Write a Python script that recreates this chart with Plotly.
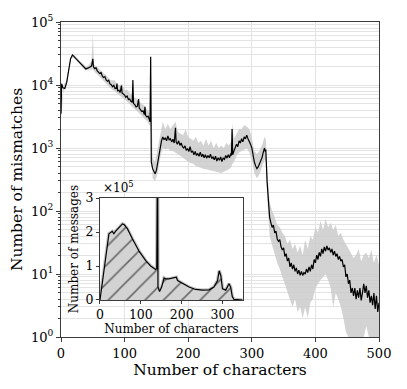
import plotly.graph_objects as go

# main panel: mismatches vs message length
chars = [0, 1, 3, 6, 9, 12, 15, 18, 21, 24, 27, 30, 33, 36, 39, 42, 45, 48, 50,
         51, 53, 55, 57, 59, 61, 63, 65, 67, 69, 71, 73, 75, 77, 79, 81, 83, 85, 87, 88, 89, 91, 93, 95, 96,
         98, 100, 102, 104, 106, 108, 110, 112, 113, 114, 116, 118, 120, 122, 123, 125, 127, 129, 131, 132,
         133, 135, 137, 139, 140, 141,
         142, 144, 146, 148, 150, 152, 154, 156, 158, 160, 162, 164, 166, 168, 170, 172, 174, 176, 178, 180,
         181, 183, 185, 187, 189, 191, 193, 195, 197, 199, 201, 203, 205, 207, 209, 211, 213, 215, 217, 219,
         221, 223, 225, 227, 229, 231, 233, 235, 237, 239, 241, 243, 245, 247, 249, 251, 253, 255, 257, 259,
         261, 263, 265, 267, 268, 269, 270, 272, 274, 276, 278, 280, 282, 284, 286, 288, 290, 292, 294, 296,
         298, 300, 302, 304, 306, 308, 310, 312, 314, 316, 318, 320, 321, 322, 324, 326,
         328, 330, 332, 334, 336, 338, 340, 342, 344, 346, 348, 350, 352, 354, 356, 358, 360, 362, 364, 366,
         368, 370, 372, 374, 376, 378, 380, 382, 384, 386, 388, 390, 392, 394, 396, 398, 400, 402, 404, 406,
         408, 410, 412, 414, 416, 418, 420, 422, 424, 426, 428, 430, 432, 434, 436, 438, 440, 442, 444, 446,
         448, 450, 452, 454, 456, 458, 460, 462, 464, 466, 468, 470, 472, 474, 476, 478, 480, 482, 484, 486,
         488, 490, 492, 494, 496, 498, 500]
mismatches = [3500, 10500, 9000, 8800, 11000, 18000, 26000, 30000, 28000, 26000, 24000, 22500, 21000, 19500,
              18000, 18500, 19500, 20000, 26000,
              19500, 18200, 18800, 16800, 16000, 15200, 15800, 13800, 13200, 13600, 12000, 11500, 11900,
              10400, 10100, 9400, 9900, 8800, 8900, 10500, 8000, 8300, 7600, 9800, 7500, 7300, 6900, 6400,
              6700, 5900, 6000, 5500, 5300, 12000, 5100, 4900, 4500, 4600, 6000, 4300, 4000, 3800, 3900,
              3400, 4500, 3300, 3100, 3200, 2800, 2600, 28000,
              600, 470, 420, 390, 440, 580, 800, 1050, 1300, 1500, 1350, 1450, 1300, 1550, 1350, 1400, 1250,
              1380, 1200, 2100, 1250, 1150, 1300, 1100, 1200, 1050, 1000, 1080, 920, 980, 880, 1050, 850,
              900, 780, 880, 760, 820, 740, 860, 730, 800, 700, 780, 690, 760, 700, 800, 680, 720, 650, 740,
              620, 700, 640, 720, 610, 690, 660, 760, 690, 780, 700, 820, 760, 2000, 780, 900, 1000, 1150,
              1050, 1300, 1200, 1400, 1250, 1500, 1400, 1600, 1400, 1300, 1150, 1000, 750, 600, 520, 470,
              500, 560, 620, 700, 850, 1000, 880, 950, 300, 140,
              80, 65, 55, 60, 45, 48, 36, 33, 35, 27, 24, 26, 19, 21, 16, 18, 13, 15, 12, 14, 11, 12.5, 10,
              11.5, 9.5, 11, 9.5, 10.5, 10, 12, 10.5, 13, 11, 14, 12, 17, 15, 20, 17, 22, 19, 25, 21, 27, 23,
              28, 24, 26, 22, 25, 20, 23, 19, 21, 17, 19, 16, 17, 13, 14, 9, 10, 7, 8, 5, 6, 4.5, 6, 4, 5.5,
              4.2, 6, 3.8, 5, 7, 5, 6.5, 4.2, 5.5, 3.5, 4.5, 3.2, 5, 2.8, 4.5, 2.5, 3.5]

band_chars = [0, 4, 8, 12, 16, 20, 24, 28, 32, 36, 40, 44, 48, 50, 52, 56, 60, 64, 68, 72, 76, 80, 84, 88,
              92, 96, 100, 104, 108, 112, 116, 120, 124, 128, 132, 136, 140, 141, 144, 148, 152, 156, 160,
              164, 168, 172, 176, 180, 184, 188, 192, 196, 200, 204, 208, 212, 216, 220, 224, 228, 232, 236,
              240, 244, 248, 252, 256, 260, 264, 268, 269, 272, 276, 280, 284, 288, 292, 296, 300, 304, 308,
              312, 316, 320, 322, 324, 328, 332, 336, 340, 344, 348, 352, 356, 360, 364, 368, 372, 376, 380,
              384, 388, 392, 396, 400, 404, 408, 412, 416, 420, 424, 428, 432, 436, 440, 444, 448, 452, 456,
              460, 464, 468, 472, 476, 480, 484, 488, 492, 496, 500]
band_low = [3000, 8000, 9500, 16500, 26000, 27000, 24500, 22000, 20000, 18000, 17000, 17500, 17500, 18000,
            16500, 15000, 13800, 12500, 11200, 10200, 9200, 8500, 8000, 7300, 6800, 6400, 5900, 5500, 5000,
            4500, 4200, 3800, 3500, 3200, 2900, 2600, 2200, 2400, 330, 300, 400, 700, 1000, 950, 1000, 900,
            900, 850, 800, 750, 700, 650, 600, 580, 560, 520, 500, 490, 470, 460, 450, 440, 430, 420, 410,
            400, 420, 440, 460, 500, 550, 600, 750, 850, 900, 950, 1000, 850, 650, 400, 330, 380, 480, 650,
            600, 180, 40, 28, 20, 15, 12, 9, 7, 5, 4, 3, 4, 2.5, 3, 2, 3, 2, 3.5, 4, 6, 7, 8, 9, 10, 8, 6,
            3, 5, 4, 3, 2, 1.2, 1, 1, 1, 1, 1, 1, 1, 1.5, 1, 1, 1, 1, 1]
band_high = [4200, 10000, 11500, 19500, 30000, 31000, 27500, 25000, 23000, 21000, 19500, 21000, 24000, 65000,
             21000, 19500, 18000, 17000, 15500, 14000, 12500, 11800, 12000, 10500, 9800, 10500, 8200, 8500,
             7400, 7000, 6300, 5800, 5300, 5000, 4600, 4000, 3500, 30000, 700, 600, 1000, 1800, 2600, 2000,
             2400, 2000, 2300, 2600, 1800, 1700, 1600, 2000, 1500, 1400, 1300, 1500, 1200, 1300, 1100, 1400,
             1100, 1300, 1000, 1200, 1000, 1100, 1000, 1200, 1100, 1300, 2500, 1400, 1700, 2000, 2000, 2300,
             2200, 2000, 1500, 900, 800, 900, 1100, 1500, 1400, 500, 140, 100, 80, 60, 55, 45, 40, 30, 35, 25,
             30, 22, 28, 20, 35, 25, 40, 35, 55, 45, 70, 50, 75, 55, 65, 50, 60, 40, 45, 35, 30, 25, 22, 18,
             20, 25, 16, 20, 22, 18, 24, 15, 20, 14]

# inset: number of messages (x 1e5) vs message length
inset_chars = [0, 18, 22, 30, 34, 38, 47, 55, 59, 67, 79, 96, 112, 124, 136, 139, 141, 142, 146, 151, 157,
               161, 169, 177, 187, 190, 202, 218, 234, 251, 267, 279, 288, 292, 296, 300, 308, 316, 320,
               324, 328, 349]
inset_msgs = [0, 1.71, 1.95, 2.02, 1.95, 2.02, 2.14, 2.24, 2.22, 2.10, 1.81, 1.43, 1.16, 1.0, 0.90, 0.93,
              4.5, 0.38, 0.25, 0.38, 0.65, 0.62, 0.62, 0.65, 0.67, 0.57, 0.48, 0.38, 0.31, 0.29, 0.30, 0.38,
              0.57, 0.86, 0.71, 0.33, 0.29, 0.48, 0.38, 0.10, 0.02, 0]

major_vals = [1, 10, 100, 1000, 10000, 100000]
major_text = ["10<sup>%d</sup>" % i for i in range(6)]

serif = "DejaVu Serif"
grid = "#e3e3e3"
frame = "#3a3a3a"

fig = go.Figure()
fig.add_trace(go.Scatter(x=band_chars, y=band_high, mode="lines", line=dict(width=0),
                         showlegend=False, hoverinfo="skip"))
fig.add_trace(go.Scatter(x=band_chars, y=band_low, mode="lines", line=dict(width=0),
                         fill="tonexty", fillcolor="rgba(200,200,200,0.8)", showlegend=False, hoverinfo="skip"))
fig.add_trace(go.Scatter(x=chars, y=mismatches, mode="lines", line=dict(color="black", width=1.2),
                         showlegend=False))

fig.add_trace(go.Scatter(x=inset_chars, y=inset_msgs, mode="lines", xaxis="x2", yaxis="y2",
                         line=dict(color="#c4c4c4", width=3.5), showlegend=False, hoverinfo="skip"))
fig.add_trace(go.Scatter(x=inset_chars, y=inset_msgs, mode="lines", xaxis="x2", yaxis="y2",
                         line=dict(color="black", width=1.2), fill="tozeroy", fillcolor="#d3d3d3",
                         fillpattern=dict(shape="/", bgcolor="#d3d3d3", fgcolor="black", size=13, solidity=0.12),
                         showlegend=False))

# the page puts the figure 8px in from the top-left corner, so margins are trimmed by that much
fig.update_layout(
    width=407, height=389,
    margin=dict(l=53, r=36, t=14, b=60, autoexpand=False),
    plot_bgcolor="white", paper_bgcolor="white",
    font=dict(family=serif, color="black", size=13),
    xaxis=dict(domain=[0, 1], range=[0, 500], tickvals=[0, 100, 200, 300, 400, 500], automargin=False,
               showgrid=True, gridcolor=grid, gridwidth=1, zeroline=False,
               showline=True, linecolor=frame, linewidth=1.3, mirror=True,
               ticks="outside", ticklen=4, tickcolor=frame,
               title=dict(text="Number of characters", font=dict(size=15.5), standoff=0)),
    yaxis=dict(domain=[0, 1], type="log", range=[0, 5], tickvals=major_vals, ticktext=major_text,
               automargin=False, showgrid=True, gridcolor=grid, gridwidth=1, zeroline=False,
               showline=True, linecolor=frame, linewidth=1.3, mirror=True,
               ticks="outside", ticklen=4, tickcolor=frame,
               minor=dict(dtick="D1", showgrid=True, gridcolor=grid, ticks="outside", ticklen=2,
                          tickcolor=frame),
               title=dict(text="Number of mismatches", font=dict(size=15.5), standoff=6)),
    xaxis2=dict(domain=[0.1226, 0.572], anchor="y2", range=[0, 350], tickvals=[0, 100, 200, 300],
                automargin=False, showgrid=False, zeroline=False, showline=True, linecolor=frame,
                linewidth=1.2, mirror=True,
                ticks="outside", ticklen=3, tickcolor=frame, tickfont=dict(size=12.5),
                title=dict(text="Number of characters", font=dict(size=12), standoff=3)),
    yaxis2=dict(domain=[0.1175, 0.441], anchor="x2", range=[0, 3], tickvals=[0, 1, 2, 3],
                automargin=False, showgrid=False, zeroline=False, showline=True, linecolor=frame,
                linewidth=1.2, mirror=True,
                ticks="outside", ticklen=3, tickcolor=frame, tickfont=dict(size=12.5),
                title=dict(text="Number of messages", font=dict(size=12), standoff=4)),
    annotations=[dict(text="×10<sup>5</sup>", xref="paper", yref="paper", x=0.125, y=0.445,
                      xanchor="left", yanchor="bottom", showarrow=False, font=dict(size=12))],
)

fig.write_html("out.html")
